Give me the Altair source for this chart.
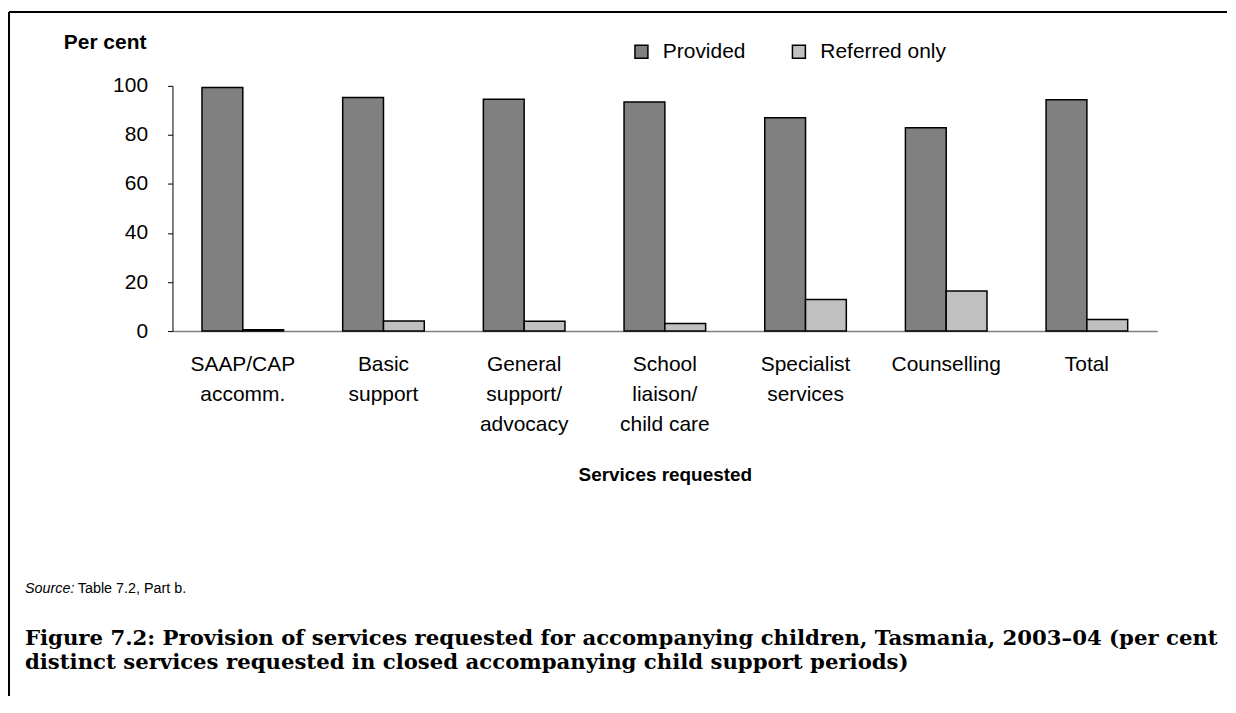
import altair as alt
import pandas as pd

categories = ["SAAP/CAP|accomm.", "Basic|support", "General|support/|advocacy",
              "School|liaison/|child care", "Specialist|services", "Counselling", "Total"]
provided = [99.3, 95.3, 94.5, 93.4, 87.0, 82.9, 94.3]
referred = [0.5, 4.1, 4.0, 3.1, 12.9, 16.3, 4.7]
series = ["Provided", "Referred only"]
colors = ["#808080", "#C0C0C0"]
y_ticks = [0, 20, 40, 60, 80, 100]

rows = []
for c, p, r in zip(categories, provided, referred):
    rows.append({"cat": c, "series": series[0], "value": p})
    rows.append({"cat": c, "series": series[1], "value": r})
df = pd.DataFrame(rows)

W, H = 988, 246
SANS = "Liberation Sans"

bars = alt.Chart(df).mark_bar(stroke="black", strokeWidth=1.5).encode(
    x=alt.X("cat:N", sort=categories,
            scale=alt.Scale(paddingInner=0.42, paddingOuter=0.21),
            axis=alt.Axis(title="Services requested", labelExpr="split(datum.label, '|')",
                          labelAngle=0, labelFont=SANS, labelFontSize=21, labelColor="black",
                          labelLineHeight=30, labelBaseline="top", labelPadding=23,
                          ticks=False, domainColor="#808080", domainWidth=1.5,
                          titleFont=SANS, titleFontSize=19, titleFontWeight="bold",
                          titleColor="black", titlePadding=31)),
    xOffset=alt.XOffset("series:N", sort=series),
    y=alt.Y("value:Q", scale=alt.Scale(domain=[0, 100]),
            axis=alt.Axis(values=y_ticks, title=None, grid=False, domainColor="black",
                          tickColor="black", tickSize=5, labelFont=SANS, labelFontSize=21,
                          labelColor="black", labelPadding=20)),
    color=alt.Color("series:N", scale=alt.Scale(domain=series, range=colors),
                    legend=alt.Legend(title=None, orient="none", legendX=460, legendY=-45,
                                      direction="horizontal", symbolType="square",
                                      symbolSize=169, symbolStrokeColor="black",
                                      symbolStrokeWidth=1.5, symbolOpacity=1,
                                      labelOffset=11, columnPadding=43,
                                      labelFont=SANS, labelFontSize=21, labelColor="black")),
).properties(width=W, height=H)

one = pd.DataFrame({"a": [0]})

def txt(text, x, y, **kw):
    return alt.Chart(one).mark_text(text=text, align="left", baseline="middle", **kw).encode(
        x=alt.value(x), y=alt.value(y))

per_cent = txt("Per cent", -109, -43, font=SANS, fontSize=21, fontWeight="bold", color="black")
src1 = txt("Source:", -148, 505, font=SANS, fontSize=14.4, fontStyle="italic", color="black")
src2 = txt("Table 7.2, Part b.", -95, 505, font=SANS, fontSize=14.4, color="black")
cap1 = txt("Figure 7.2: Provision of services requested for accompanying children, Tasmania, 2003\u201304 (per cent",
           -148, 555, font="DejaVu Serif", fontSize=21.3, fontWeight="bold", color="black")
cap2 = txt("distinct services requested in closed accompanying child support periods)",
           -148, 579, font="DejaVu Serif", fontSize=21.3, fontWeight="bold", color="black")

top_rule = alt.Chart(one).mark_rule(color="black", strokeWidth=2).encode(
    x=alt.value(-164), x2=alt.value(1058), y=alt.value(-74))
left_rule = alt.Chart(one).mark_rule(color="black", strokeWidth=2).encode(
    x=alt.value(-164), y=alt.value(-74), y2=alt.value(612))

chart = alt.layer(bars, per_cent, src1, src2, cap1, cap2, top_rule, left_rule).properties(
    padding={"left": 0, "top": 2, "right": 0, "bottom": 0}
).configure_view(stroke=None)

chart.save("out.html", embed_options={"renderer": "svg", "actions": False})
